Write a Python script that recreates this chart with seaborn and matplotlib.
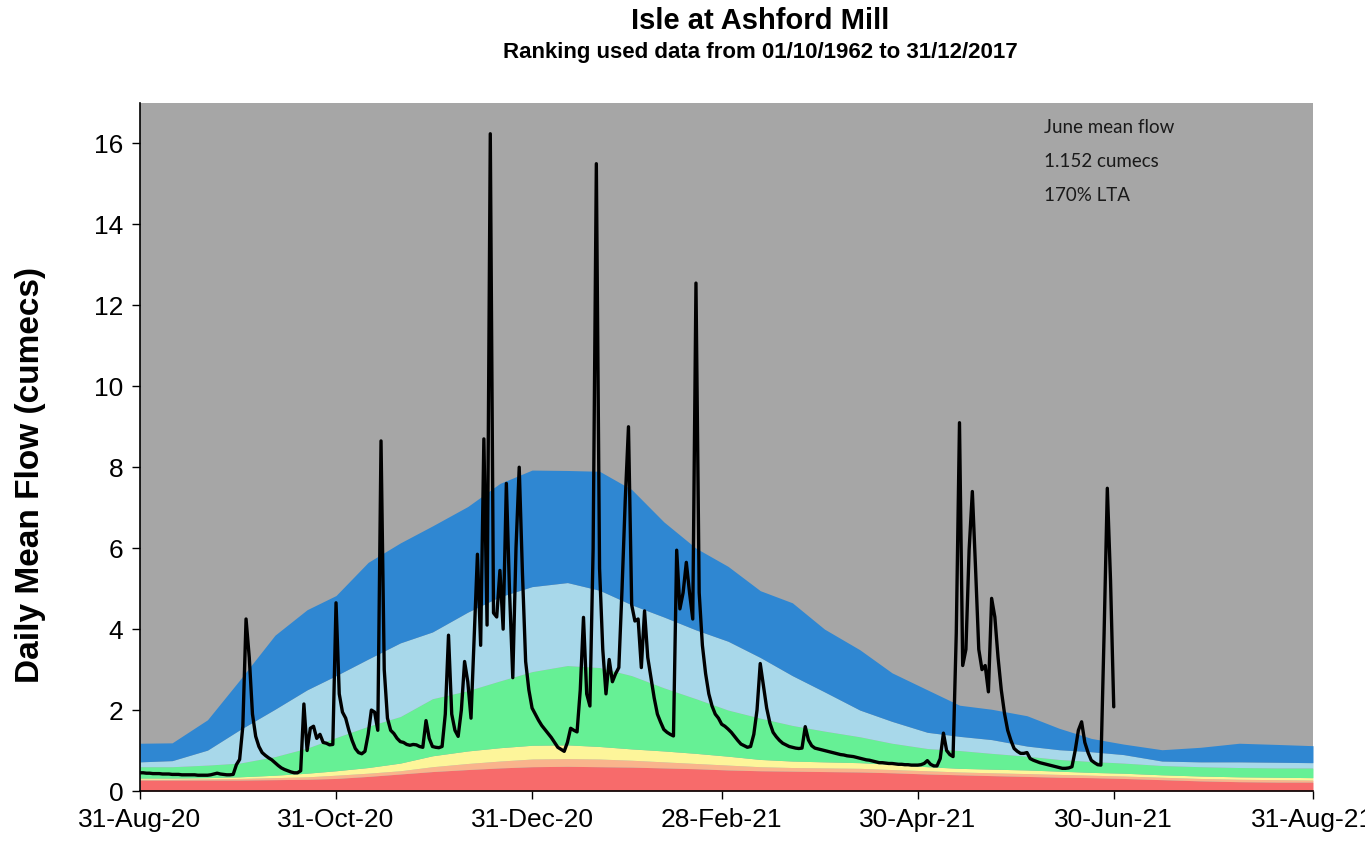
import pandas as pd
import matplotlib
matplotlib.use("Agg")
import matplotlib.pyplot as plt
import seaborn as sns

# Daily mean flow, 31-Aug-20 to 30-Jun-21 (cumecs)
flow_start = "2020-08-31"
flow_end = "2021-06-30"
flow = [
    0.45, 0.45, 0.44, 0.44, 0.43, 0.43, 0.43, 0.42, 0.42, 0.42,
    0.41, 0.41, 0.41, 0.40, 0.40, 0.40, 0.40, 0.40, 0.39, 0.39,
    0.39, 0.39, 0.40, 0.42, 0.44, 0.42, 0.41, 0.40, 0.40, 0.41,
    0.65, 0.78, 1.60, 4.25, 3.30, 1.90, 1.35, 1.10, 0.95, 0.88,
    0.82, 0.77, 0.70, 0.63, 0.57, 0.53, 0.50, 0.47, 0.45, 0.45,
    0.50, 2.15, 1.00, 1.55, 1.60, 1.30, 1.40, 1.20, 1.18, 1.14,
    1.15, 4.65, 2.40, 1.95, 1.80, 1.50, 1.25, 1.05, 0.95, 0.92,
    0.98, 1.40, 2.00, 1.95, 1.50, 8.65, 3.00, 1.80, 1.50, 1.42,
    1.30, 1.22, 1.20, 1.15, 1.13, 1.15, 1.14, 1.10, 1.08, 1.74,
    1.30, 1.10, 1.08, 1.07, 1.10, 1.90, 3.85, 1.90, 1.50, 1.35,
    2.00, 3.20, 2.70, 1.80, 3.80, 5.85, 3.60, 8.70, 4.10, 16.24,
    4.40, 4.30, 5.45, 4.00, 7.60, 4.90, 2.80, 6.00, 8.00, 5.40,
    3.20, 2.50, 2.05, 1.90, 1.75, 1.62, 1.52, 1.42, 1.32, 1.20,
    1.08, 1.03, 0.98, 1.20, 1.55, 1.50, 1.46, 2.50, 4.29, 2.40,
    2.10, 5.98, 15.50, 5.50, 3.50, 2.40, 3.25, 2.70, 2.90, 3.05,
    5.00, 7.20, 9.00, 4.60, 4.20, 4.25, 3.05, 4.45, 3.30, 2.80,
    2.30, 1.90, 1.70, 1.52, 1.45, 1.40, 1.36, 5.95, 4.50, 4.90,
    5.65, 4.90, 4.25, 12.55, 4.90, 3.60, 2.90, 2.40, 2.10, 1.90,
    1.80, 1.65, 1.60, 1.53, 1.45, 1.35, 1.25, 1.16, 1.12, 1.08,
    1.10, 1.40, 2.00, 3.15, 2.60, 2.05, 1.68, 1.45, 1.34, 1.25,
    1.18, 1.14, 1.10, 1.08, 1.06, 1.05, 1.06, 1.59, 1.26, 1.12,
    1.06, 1.04, 1.02, 1.00, 0.98, 0.96, 0.94, 0.92, 0.90, 0.89,
    0.87, 0.86, 0.85, 0.83, 0.81, 0.79, 0.77, 0.76, 0.74, 0.72,
    0.70, 0.70, 0.69, 0.68, 0.68, 0.67, 0.66, 0.66, 0.65, 0.65,
    0.64, 0.64, 0.64, 0.65, 0.68, 0.75, 0.66, 0.62, 0.62, 0.80,
    1.43, 1.00, 0.90, 0.85, 3.90, 9.10, 3.10, 3.50, 5.96, 7.40,
    5.50, 3.50, 3.00, 3.10, 2.45, 4.76, 4.30, 3.30, 2.50, 1.92,
    1.50, 1.25, 1.05, 0.98, 0.93, 0.93, 0.95, 0.80, 0.76, 0.73,
    0.70, 0.68, 0.66, 0.64, 0.62, 0.60, 0.58, 0.56, 0.56, 0.57,
    0.60, 1.00, 1.50, 1.71, 1.20, 0.95, 0.76, 0.70, 0.65, 0.64,
    3.90, 7.48, 5.20, 2.08,
]

# Long-term flow bands (upper edge of each band)
band_dates = [
    "2020-08-31", "2020-09-10", "2020-09-21", "2020-10-01", "2020-10-12", "2020-10-22",
    "2020-10-31", "2020-11-10", "2020-11-20", "2020-11-30", "2020-12-11", "2020-12-21",
    "2020-12-31", "2021-01-11", "2021-01-21", "2021-01-31", "2021-02-10", "2021-02-20",
    "2021-03-02", "2021-03-12", "2021-03-22", "2021-04-01", "2021-04-12", "2021-04-22",
    "2021-05-03", "2021-05-13", "2021-05-23", "2021-06-03", "2021-06-13", "2021-06-23",
    "2021-07-03", "2021-07-15", "2021-07-27", "2021-08-08", "2021-08-20", "2021-08-31",
]
red_top = [0.27, 0.27, 0.27, 0.27, 0.28, 0.29, 0.31, 0.36, 0.42, 0.48, 0.53, 0.57,
           0.60, 0.61, 0.60, 0.59, 0.57, 0.55, 0.52, 0.50, 0.49, 0.48, 0.47, 0.45,
           0.42, 0.40, 0.38, 0.36, 0.34, 0.33, 0.31, 0.28, 0.25, 0.23, 0.22, 0.22]
orange_top = [0.29, 0.29, 0.30, 0.31, 0.33, 0.35, 0.39, 0.44, 0.50, 0.60, 0.68, 0.74,
              0.79, 0.80, 0.79, 0.76, 0.72, 0.68, 0.64, 0.60, 0.58, 0.57, 0.56, 0.53,
              0.50, 0.47, 0.45, 0.43, 0.41, 0.39, 0.37, 0.34, 0.31, 0.29, 0.28, 0.27]
yellow_top = [0.32, 0.32, 0.33, 0.35, 0.39, 0.44, 0.50, 0.58, 0.69, 0.87, 0.99, 1.07,
              1.13, 1.14, 1.10, 1.04, 0.99, 0.93, 0.86, 0.78, 0.74, 0.72, 0.70, 0.66,
              0.60, 0.56, 0.54, 0.52, 0.49, 0.46, 0.44, 0.40, 0.37, 0.35, 0.34, 0.33]
green_top = [0.60, 0.60, 0.64, 0.69, 0.85, 1.06, 1.32, 1.60, 1.84, 2.28, 2.48, 2.72,
             2.95, 3.10, 3.05, 2.85, 2.55, 2.28, 2.00, 1.80, 1.62, 1.48, 1.34, 1.18,
             1.05, 1.00, 0.93, 0.86, 0.78, 0.73, 0.69, 0.63, 0.60, 0.58, 0.57, 0.57]
lightblue_top = [0.72, 0.75, 1.01, 1.51, 2.02, 2.50, 2.85, 3.26, 3.66, 3.93, 4.42, 4.80,
                 5.05, 5.15, 4.96, 4.60, 4.30, 3.98, 3.70, 3.30, 2.85, 2.45, 2.00, 1.72,
                 1.45, 1.35, 1.27, 1.11, 1.02, 0.97, 0.90, 0.74, 0.72, 0.72, 0.71, 0.70]
blue_top = [1.18, 1.19, 1.76, 2.74, 3.85, 4.48, 4.83, 5.65, 6.13, 6.55, 7.03, 7.60,
            7.93, 7.92, 7.90, 7.45, 6.65, 6.00, 5.55, 4.95, 4.65, 4.00, 3.49, 2.92,
            2.50, 2.12, 2.02, 1.86, 1.55, 1.30, 1.16, 1.02, 1.08, 1.18, 1.15, 1.12]

tick_dates = ["2020-08-31", "2020-10-31", "2020-12-31", "2021-02-28",
              "2021-04-30", "2021-06-30", "2021-08-31"]
tick_labels = ["31-Aug-20", "31-Oct-20", "31-Dec-20", "28-Feb-21",
               "30-Apr-21", "30-Jun-21", "31-Aug-21"]
note_lines = ["June mean flow", "1.152 cumecs", "170% LTA"]

sns.set_style("ticks")
plt.rcParams["font.family"] = ["Liberation Sans", "DejaVu Sans"]
plt.rcParams["text.color"] = "black"

bands = pd.DataFrame({
    "date": pd.to_datetime(band_dates),
    "red": red_top, "orange": orange_top, "yellow": yellow_top,
    "green": green_top, "lightblue": lightblue_top, "blue": blue_top,
})
daily = pd.DataFrame({
    "date": pd.date_range(flow_start, flow_end, freq="D"),
    "flow": flow,
})

fig = plt.figure(figsize=(13.65, 8.41), dpi=100)
ax = fig.add_axes([0.10256, 0.05945, 0.85934, 0.81807])
ax.set_facecolor("#a6a6a6")

layers = [("red", None, "#f76b6b"), ("orange", "red", "#f9b48c"),
          ("yellow", "orange", "#fdf59a"), ("green", "yellow", "#66f095"),
          ("lightblue", "green", "#a8d8ea"), ("blue", "lightblue", "#2f87d2")]
for top, bottom, colour in layers:
    lower = 0 if bottom is None else bands[bottom]
    ax.fill_between(bands["date"], lower, bands[top], color=colour, lw=0)

sns.lineplot(data=daily, x="date", y="flow", color="black", lw=2.4, ax=ax)

ax.set_xlim(pd.Timestamp("2020-08-31"), pd.Timestamp("2021-08-31"))
ax.set_ylim(0, 17)
ax.set_yticks(range(0, 17, 2))
ax.set_xticks(pd.to_datetime(tick_dates))
ax.set_xticklabels(tick_labels)
ax.tick_params(axis="both", labelsize=19, length=6, width=1, color="black",
               labelcolor="black", direction="out", pad=6)
for s in ["top", "right"]:
    ax.spines[s].set_visible(False)
for s in ["left", "bottom"]:
    ax.spines[s].set_color("black")
    ax.spines[s].set_linewidth(1.2)

ax.set_xlabel("")
ax.set_ylabel("Daily Mean Flow (cumecs)", fontsize=24, fontweight="bold",
              color="black")
ax.yaxis.set_label_coords(-0.08, 0.46)

for i, line in enumerate(note_lines):
    ax.text(0.771, 0.965 - i * 0.0495, line, transform=ax.transAxes,
            fontsize=13.5, color="#1a1a1a", family=["Lato", "DejaVu Sans"],
            va="center", ha="left")

fig.text(0.557, 0.975, "Isle at Ashford Mill", ha="center", va="center",
         fontsize=21, fontweight="bold", color="black")
fig.text(0.557, 0.938, "Ranking used data from 01/10/1962 to 31/12/2017",
         ha="center", va="center", fontsize=16, fontweight="bold", color="black")

fig.savefig("out.png", dpi=100)
